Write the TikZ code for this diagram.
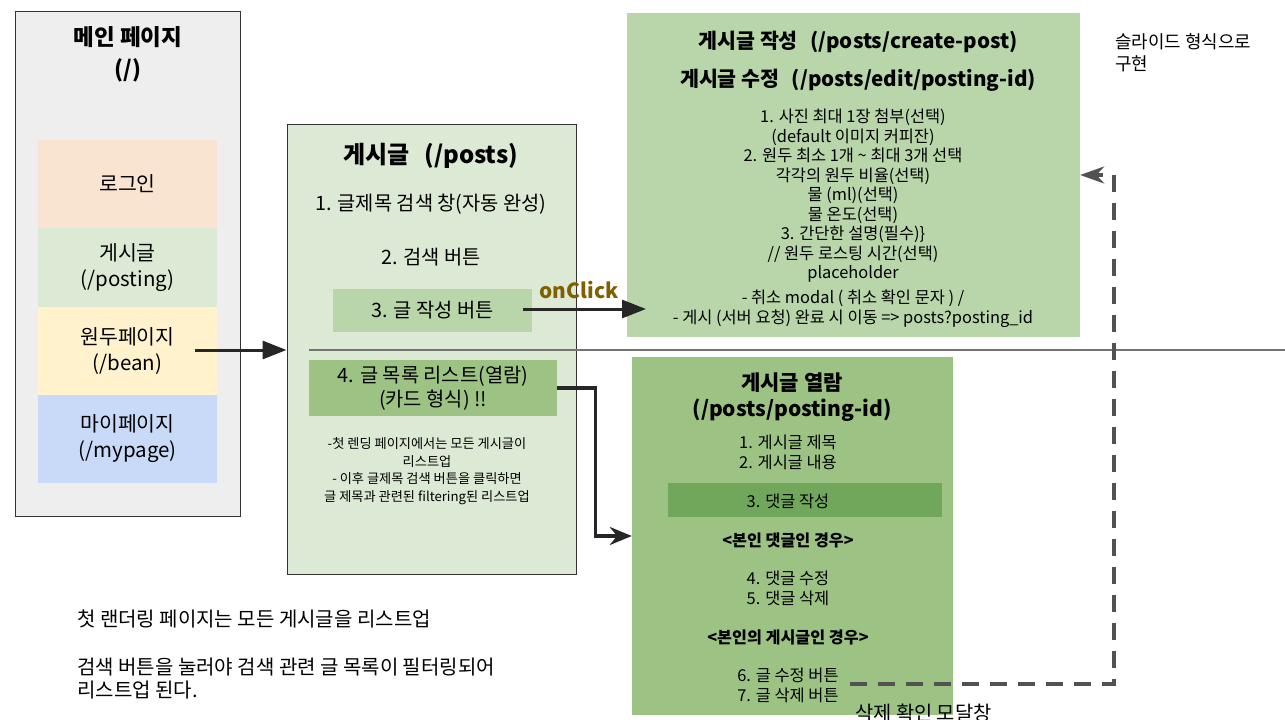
\documentclass[tikz,border=0pt]{standalone}
\usepackage{fontspec}
\setmainfont{Noto Sans CJK KR}
\usepackage{tikz}
\usetikzlibrary{arrows.meta,positioning}
\definecolor{pagegray}{HTML}{EEEEEE}
\definecolor{peach}{HTML}{F9E3D1}
\definecolor{mint}{HTML}{DCE9D5}
\definecolor{cream}{HTML}{FFF2CC}
\definecolor{sky}{HTML}{C9DAF8}
\definecolor{sage}{HTML}{B8D6AA}
\definecolor{leaf}{HTML}{9DC384}
\definecolor{moss}{HTML}{71A75A}
\definecolor{clickbrown}{HTML}{7F6000}
\definecolor{edge}{HTML}{333333}

\begin{document}
\begin{tikzpicture}[x=1pt,y=-1pt,
  box/.style={draw=edge,line width=0.9pt,inner sep=0pt},
  panel/.style={inner sep=0pt},
  tab/.style={inner sep=0pt,minimum width=179pt,minimum height=88pt,align=center,font=\fontsize{20.5}{26}\selectfont},
  txt/.style={inner sep=0pt,align=center,font=\fontsize{19.8}{23.5}\selectfont},
  small/.style={inner sep=0pt,align=center,font=\fontsize{16.4}{19.5}\selectfont},
  smallbold/.style={inner sep=0pt,align=center,font=\bfseries\fontsize{16.2}{19.5}\selectfont},
  flow/.style={line width=3pt,draw=black!85,-{Triangle[length=24pt,width=18pt]}},
  elbow/.style={line width=3.2pt,draw=black!85,-{Stealth[length=22pt,width=18pt]}},
  modal/.style={line width=3.6pt,draw=black!68,dash pattern=on 17pt off 11pt,-{Stealth[length=24pt,width=17pt]}}]
  \useasboundingbox (0,0) rectangle (1285,720);
  % main page
  \node[box,fill=pagegray,minimum width=225pt,minimum height=505pt] (main) at (127.5,263.5) {};
  \node[txt,font=\bfseries\fontsize{22.5}{32}\selectfont] (maintitle) at (128,54) {메인 페이지\\(/)};
  \node[tab,fill=peach] (login) at (127.5,184) {로그인};
  \node[tab,fill=mint,minimum height=79pt] (posting) at (127.5,267.5) {게시글\\(/posting)};
  \node[tab,fill=cream] (bean) at (127.5,351) {원두페이지\\(/bean)};
  \node[tab,fill=sky] (mypage) at (127.5,439) {마이페이지\\(/mypage)};
  % posts
  \node[box,fill=mint,minimum width=289pt,minimum height=450pt] (posts) at (431.5,349) {};
  \node[txt,font=\bfseries\fontsize{24}{28}\selectfont] (poststitle) at (431,156) {게시글\hspace{0.6em}(/posts)};
  \node[txt] (search) at (431,204) {1. 글제목 검색 창(자동 완성)};
  \node[txt] (searchbtn) at (431,257) {2. 검색 버튼};
  \node[txt,fill=sage,minimum width=199pt,minimum height=43pt] (writebtn) at (432.5,310.5) {3. 글 작성 버튼};
  \coordinate (divl) at (309,350);
  \coordinate (divr) at (1285,350);
  \draw[black!55,line width=1.3pt] (divl) -- (divr);
  \node[txt,fill=leaf,minimum width=248pt,minimum height=56pt] (listbtn) at (433,388) {4. 글 목록 리스트(열람)\\(카드 형식) !!};
  \node[txt,font=\fontsize{13.2}{17.5}\selectfont] (listnote) at (427,471) {-첫 렌딩 페이지에서는 모든 게시글이\\리스트업\\- 이후 글제목 검색 버튼을 클릭하면\\글 제목과 관련된 filtering된 리스트업};
  % create / edit
  \node[panel,fill=sage,minimum width=453pt,minimum height=324pt] (create) at (853.5,175) {};
  \node[txt,font=\bfseries\fontsize{20.6}{24}\selectfont] (createtitle) at (858,42) {게시글 작성\hspace{0.6em}(/posts/create-post)};
  \node[txt,font=\bfseries\fontsize{20.6}{24}\selectfont] (edittitle) at (858,80) {게시글 수정\hspace{0.6em}(/posts/edit/posting-id)};
  \node[small] (form) at (853,196) {1. 사진 최대 1장 첨부(선택)\\(default 이미지 커피잔)\\2. 원두 최소 1개 \textasciitilde{} 최대 3개 선택\\각각의 원두 비율(선택)\\물 (ml)(선택)\\물 온도(선택)\\3. 간단한 설명(필수)\}\\// 원두 로스팅 시간(선택)\\placeholder};
  \node[small] (formend) at (853,308.5) {- 취소 modal ( 취소 확인 문자 ) /\\- 게시 (서버 요청) 완료 시 이동 => posts?posting\_id};
  % view
  \node[panel,fill=leaf,minimum width=321pt,minimum height=358pt] (view) at (792.5,536) {};
  \node[txt,font=\bfseries\fontsize{21}{26}\selectfont] (viewtitle) at (792,397) {게시글 열람\\(/posts/posting-id)};
  \node[small] (viewitems) at (788,452.5) {1. 게시글 제목\\2. 게시글 내용};
  \node[panel,fill=moss,minimum width=274pt,minimum height=34pt] (cmtbox) at (805,500) {};
  \node[small] (cmt) at (788,501) {3. 댓글 작성};
  \node[smallbold] (mycmt) at (788,540) {<본인 댓글인 경우>};
  \node[small] (cmtedit) at (788,588.5) {4. 댓글 수정\\5. 댓글 삭제};
  \node[smallbold] (mypost) at (788,637) {<본인의 게시글인 경우>};
  \node[small] (postedit) at (788,685.5) {6. 글 수정 버튼\\7. 글 삭제 버튼};
  % arrows
  \coordinate (beanout) at (195,350);
  \draw[flow] (beanout) -- (posts.west |- beanout);
  \node[inner sep=0pt,text=clickbrown,font=\bfseries\fontsize{20.8}{24}\selectfont] (onclick) at (579,290) {onClick};
  \coordinate (writeout) at (523,309);
  \coordinate (createin) at (646,309);
  \draw[flow] (writeout) -- (createin);
  \draw[elbow] (listbtn.east) -- ++(38,0) |- (view.west);
  \coordinate (delout) at (850,684);
  \draw[modal] (delout) -- ++(264,0) |- (create.east);
  \node[txt,anchor=west] (modallabel) at (855,713) {삭제 확인 모달창};
  % notes
  \node[txt,anchor=north west,align=left,font=\fontsize{17.9}{22}\selectfont] (slide) at (1115,33) {슬라이드 형식으로\\구현};
  \node[txt,anchor=west,font=\fontsize{20}{23.5}\selectfont] (firstnote) at (77,619) {첫 랜더링 페이지는 모든 게시글을 리스트업};
  \node[txt,anchor=west,align=left,font=\fontsize{20}{23.5}\selectfont] (searchnote) at (77,678.5) {검색 버튼을 눌러야 검색 관련 글 목록이 필터링되어\\리스트업 된다.};
\end{tikzpicture}
\end{document}
